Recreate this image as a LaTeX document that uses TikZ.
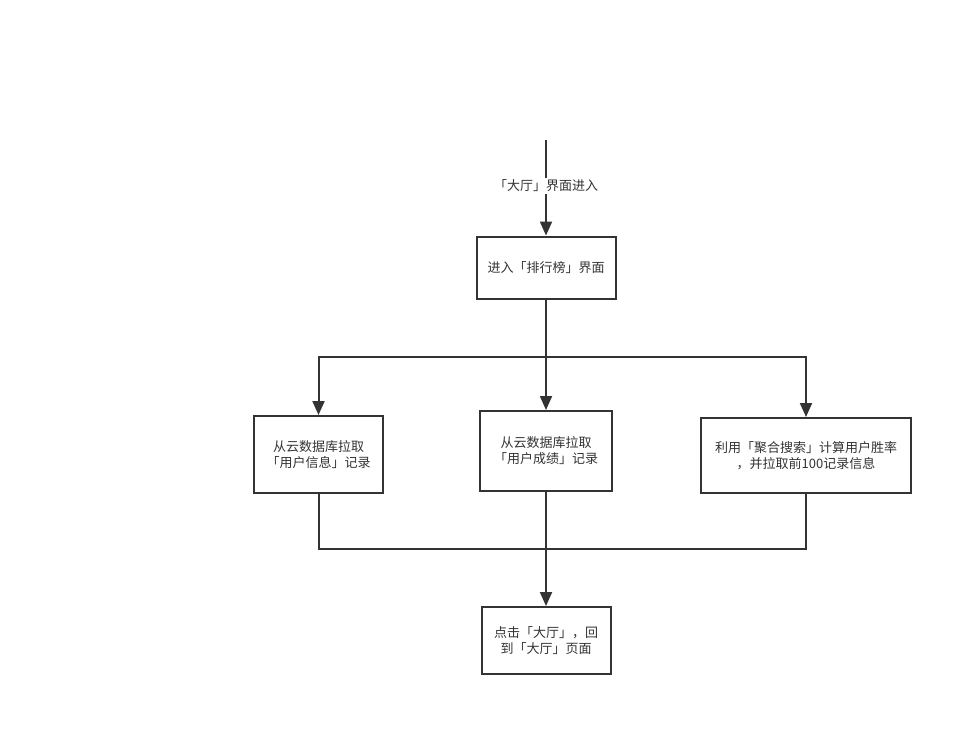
\documentclass[tikz,border=0pt]{standalone}
\usepackage{fontspec}
\setmainfont{Noto Sans CJK SC}
\usetikzlibrary{arrows.meta}
\definecolor{ink}{HTML}{333333}
\tikzset{
  box/.style={draw=ink, line width=2pt, fill=white, text=ink, align=center, inner sep=0pt,
    font=\fontsize{13}{16}\selectfont},
  conn/.style={draw=ink, line width=2pt},
  arr/.style={conn, -{Triangle[length=14pt,width=12pt]}},
  lbl/.style={fill=white, text=ink, font=\fontsize{13}{16}\selectfont, inner sep=2pt}
}
\begin{document}
\begin{tikzpicture}[x=1pt,y=-1pt]
\useasboundingbox (0,0) rectangle (973,736);
\node[box, minimum width=139pt, minimum height=62pt] (b1) at (546,267.5) {进入「排行榜」界面};
\node[box, minimum width=129pt, minimum height=77pt] (b2) at (318.5,454.5) {从云数据库拉取\\「用户信息」记录};
\node[box, minimum width=132pt, minimum height=80pt] (b3) at (546,451) {从云数据库拉取\\「用户成绩」记录};
\node[box, minimum width=210pt, minimum height=75pt] (b4) at (806,455.5) {利用「聚合搜索」计算用户胜率\\，并拉取前100记录信息};
\node[box, minimum width=129pt, minimum height=67pt] (b5) at (546,640.5) {点击「大厅」，回\\到「大厅」页面};
\coordinate (top) at (546,140);
\coordinate (s) at (546,357);
\coordinate (m) at (546,549);
\draw[arr] (top) -- node[lbl, pos=0.48] (t) {「大厅」界面进入} (b1.north);
\draw[conn] (b1.south) -- (s);
\draw[arr] (s) -| (b2.north);
\draw[arr] (s) -| (b4.north);
\draw[arr] (s) -- (b3.north);
\draw[conn] (b2.south) |- (m);
\draw[conn] (b4.south) |- (m);
\draw[conn] (b3.south) -- (m);
\draw[arr] (m) -- (b5.north);
\end{tikzpicture}
\end{document}
